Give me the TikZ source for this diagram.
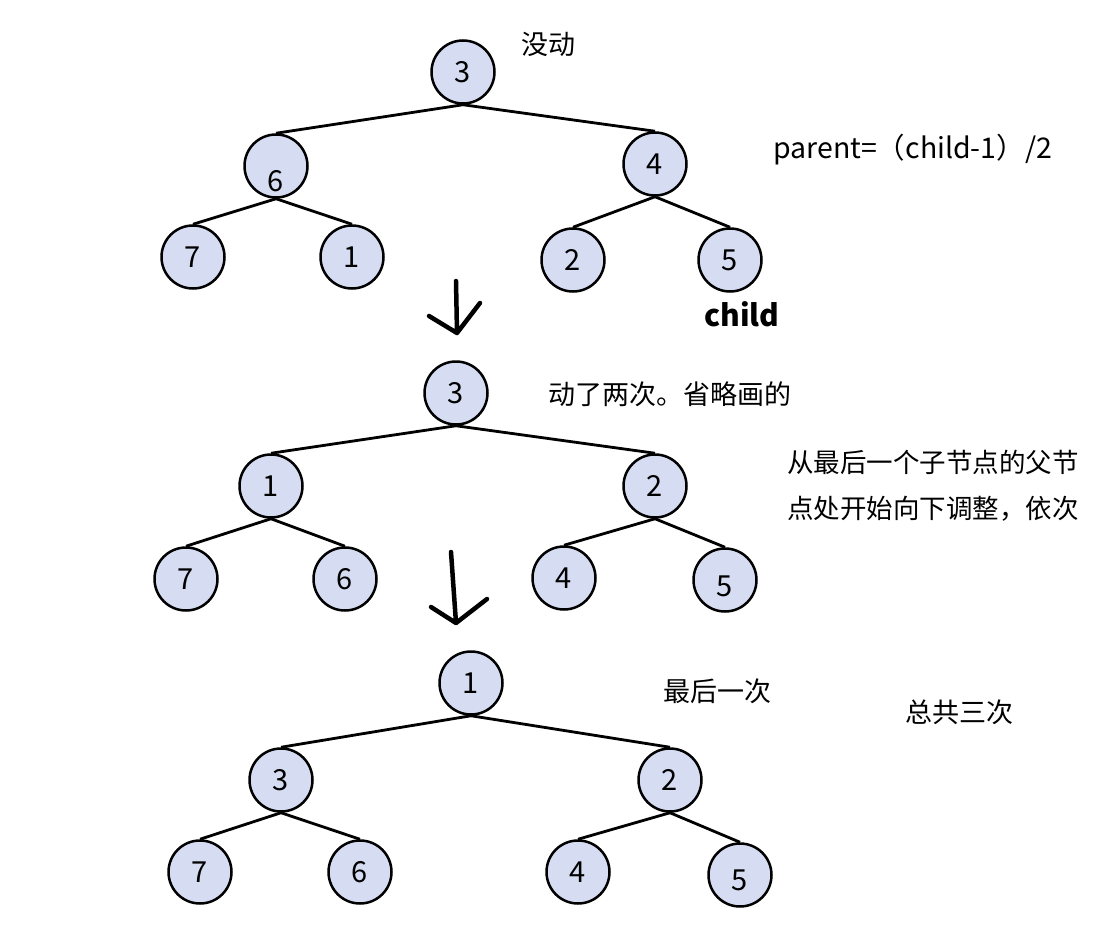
\documentclass[tikz,border=0pt]{standalone}
\usepackage{fontspec}
\newfontfamily\cjk{Noto Sans CJK SC}
\usepackage{tikz}
\definecolor{nodefill}{RGB}{214,220,242}

\begin{document}
\begin{tikzpicture}[
  x=1pt, y=-1pt, font=\cjk\fontsize{27}{30}\selectfont,
  nd/.style={circle, draw, line width=2.5pt, fill=nodefill, minimum size=63pt, inner sep=0pt,
    font=\cjk\fontsize{29}{30}\selectfont, text height=21pt, text depth=0pt},
  lk/.style={line width=2.8pt},
  hand/.style={line width=4.5pt, line cap=round, line join=round},
  note/.style={anchor=west, inner sep=0pt}
]
\useasboundingbox[fill=white] (0,0) rectangle (1108,952);

% before
\node[nd] (aroot) at (463,72) {3};
\node[nd] (al) at (276,166) {\raisebox{-15pt}{6}};
\node[nd] (ar) at (655,164) {4};
\node[nd] (all) at (193,257) {7};
\node[nd] (alr) at (352,257) {1};
\node[nd] (arl) at (573,260) {2};
\node[nd] (arr) at (730,260) {5};
\node[note] (still) at (521,44) {没动};
\node[note, font=\cjk\fontsize{28.5}{30}\selectfont] (formula) at (773,150) {parent=（child-1）/2};
\node[note, font=\cjk\fontsize{30}{32}\selectfont\bfseries] (childlbl) at (704,314) {child};

\draw[lk] (aroot.south) -- (al.north);
\draw[lk] (aroot.south) -- (ar.north);
\draw[lk] (al.south) -- (all.north);
\draw[lk] (al.south) -- (alr.north);
\draw[lk] (ar.south) -- (arl.north);
\draw[lk] (ar.south) -- (arr.north);

\coordinate (d1top) at (456,281);
\coordinate (d1tip) at (457,333);
\coordinate (d1l) at (429,316);
\coordinate (d1r) at (480,303);
\draw[hand] (d1top) -- (d1tip) (d1l) -- (d1tip) -- (d1r);

% after two moves
\node[nd] (broot) at (456,393) {3};
\node[nd] (bl) at (271,486) {1};
\node[nd] (br) at (655,486) {2};
\node[nd] (bll) at (186,579) {7};
\node[nd] (blr) at (345,579) {6};
\node[nd] (brl) at (564,578) {4};
\node[nd] (brr) at (725,580) {\raisebox{-6pt}{5}};
\node[note] (twice) at (548,394) {动了两次。省略画的};
\node[note, align=left, font=\cjk\fontsize{26.5}{46}\selectfont] (howto) at (787,486)
  {从最后一个子节点的父节\\点处开始向下调整，依次};

\draw[lk] (broot.south) -- (bl.north);
\draw[lk] (broot.south) -- (br.north);
\draw[lk] (bl.south) -- (bll.north);
\draw[lk] (bl.south) -- (blr.north);
\draw[lk] (br.south) -- (brl.north);
\draw[lk] (br.south) -- (brr.north);

\coordinate (d2top) at (451,552);
\coordinate (d2tip) at (456,623);
\coordinate (d2l) at (431,607);
\coordinate (d2r) at (487,599);
\draw[hand] (d2top) -- (d2tip) (d2l) -- (d2tip) -- (d2r);

% last move
\node[nd] (croot) at (471,683) {1};
\node[nd] (cl) at (281,780) {3};
\node[nd] (cr) at (670,780) {2};
\node[nd] (cll) at (200,872) {7};
\node[nd] (clr) at (360,872) {6};
\node[nd] (crl) at (578,872) {4};
\node[nd] (crr) at (740,875) {\raisebox{-5pt}{5}};
\node[note] (last) at (663,691) {最后一次};
\node[note] (total) at (905,712) {总共三次};

\draw[lk] (croot.south) -- (cl.north);
\draw[lk] (croot.south) -- (cr.north);
\draw[lk] (cl.south) -- (cll.north);
\draw[lk] (cl.south) -- (clr.north);
\draw[lk] (cr.south) -- (crl.north);
\draw[lk] (cr.south) -- (crr.north);
\end{tikzpicture}
\end{document}
